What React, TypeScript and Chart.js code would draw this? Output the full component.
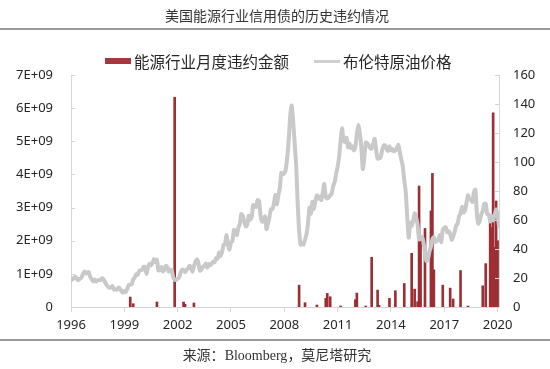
import React, { useEffect, useRef } from "react";
import { Chart, registerables } from "chart.js";

Chart.register(...registerables);

// ---- text ----
const TITLE = "美国能源行业信用债的历史违约情况";
const SOURCE_PREFIX = "来源：";
const SOURCE_LATIN = "Bloomberg";
const SOURCE_SUFFIX = "，莫尼塔研究";
const BAR_LABEL = "能源行业月度违约金额";
const LINE_LABEL = "布伦特原油价格";

// ---- axes ----
const xTickYears = [1996, 1999, 2002, 2005, 2008, 2011, 2014, 2017, 2020];
const leftTicks = [0, 1e9, 2e9, 3e9, 4e9, 5e9, 6e9, 7e9];
const rightTicks = [0, 20, 40, 60, 80, 100, 120, 140, 160];

// ---- monthly energy-sector default amounts (USD) ----
const defaultMonths = [
  "1999-05", "1999-07", "2000-11", "2001-11", "2002-05", "2002-06", "2002-12",
  "2008-11", "2009-03", "2009-11", "2010-05", "2010-06", "2010-08", "2011-03",
  "2012-01", "2012-02", "2012-08", "2012-12", "2013-04", "2013-05", "2013-12",
  "2014-04", "2014-10", "2015-03", "2015-05", "2015-07", "2015-08", "2015-09",
  "2015-12", "2016-04", "2016-05", "2016-06", "2016-12", "2017-05", "2017-07",
  "2017-12", "2018-05", "2019-03", "2019-05", "2019-08", "2019-09", "2019-10",
  "2019-11", "2019-12", "2020-01",
];
const defaultAmounts = [
  0.30e9, 0.10e9, 0.15e9, 6.33e9, 0.15e9, 0.08e9, 0.12e9,
  0.66e9, 0.13e9, 0.06e9, 0.26e9, 0.41e9, 0.31e9, 0.03e9,
  0.22e9, 0.42e9, 0.03e9, 1.5e9, 0.51e9, 0.05e9, 0.26e9,
  0.49e9, 0.71e9, 1.62e9, 0.54e9, 0.16e9, 3.65e9, 2.12e9,
  2.37e9, 2.9e9, 4.03e9, 1.12e9, 0.66e9, 0.57e9, 0.24e9,
  1.1e9, 0.03e9, 0.64e9, 1.31e9, 2.57e9, 2.4e9, 5.86e9,
  1.8e9, 3.2e9, 2.0e9,
];

// ---- Brent crude monthly price (USD/bbl), from 1996-01 ----
const brentStartYear = 1996;
const brentMonthly = [
  // 1996
  18.6, 19.0, 20.2, 20.9, 19.2, 18.6, 19.6, 20.3, 22.6, 24.4, 23.0, 23.9,
  // 1997
  24.0, 20.8, 19.2, 17.6, 19.0, 17.6, 18.5, 18.6, 18.5, 19.9, 19.1, 17.1,
  // 1998
  15.3, 14.0, 13.3, 13.6, 14.4, 12.1, 12.0, 12.0, 13.4, 12.8, 11.0, 9.8,
  // 1999
  11.1, 10.3, 12.5, 15.3, 15.3, 15.8, 19.1, 20.3, 22.5, 22.1, 24.6, 25.5,
  // 2000
  25.5, 27.8, 27.5, 22.8, 27.6, 29.8, 28.7, 30.4, 33.1, 30.9, 32.5, 25.3,
  // 2001
  25.6, 27.5, 24.5, 25.7, 28.4, 27.7, 24.5, 25.7, 25.6, 20.5, 18.9, 18.6,
  // 2002
  19.4, 20.3, 23.7, 25.7, 25.4, 24.1, 25.7, 26.6, 28.4, 27.5, 24.3, 28.0,
  // 2003
  31.2, 32.8, 30.3, 25.0, 25.8, 27.6, 28.4, 29.9, 27.1, 29.6, 28.8, 29.8,
  // 2004
  31.2, 30.9, 33.8, 33.4, 37.6, 35.2, 38.2, 42.7, 43.2, 49.8, 43.1, 39.6,
  // 2005
  44.5, 45.5, 53.1, 51.9, 49.7, 54.6, 57.5, 64.1, 62.9, 58.5, 55.5, 56.7,
  // 2006
  63.0, 60.2, 62.1, 70.3, 70.0, 68.9, 73.7, 73.2, 62.8, 58.9, 59.1, 62.5,
  // 2007
  53.7, 57.6, 62.1, 67.4, 67.5, 71.3, 77.2, 70.8, 77.1, 82.3, 92.5, 91.5,
  // 2008
  92.2, 94.8, 103.3, 115.0, 132.0, 139.0, 128.0, 113.0, 98.0, 72.7, 53.0, 43.0,
  // 2009
  44.0, 43.0, 46.5, 50.2, 57.3, 68.6, 64.4, 72.5, 67.7, 73.2, 77.0, 74.7,
  // 2010
  76.2, 73.8, 78.8, 84.8, 75.9, 74.8, 75.6, 77.1, 78.2, 83.5, 86.1, 92.0,
  // 2011
  96.5, 103.7, 114.6, 123.3, 114.5, 113.9, 116.7, 110.2, 112.8, 109.6, 110.8, 107.9,
  // 2012
  110.7, 119.3, 125.5, 119.8, 110.3, 95.2, 102.6, 113.4, 113.0, 111.5, 109.5, 109.2,
  // 2013
  112.3, 116.1, 108.5, 102.3, 102.6, 102.9, 107.9, 111.3, 111.6, 109.1, 107.8, 110.8,
  // 2014
  108.1, 108.9, 107.5, 107.8, 109.5, 111.8, 106.8, 101.6, 97.1, 87.4, 79.4, 62.3,
  // 2015
  47.8, 58.1, 55.9, 59.5, 64.6, 61.7, 56.8, 46.5, 47.6, 48.4, 44.3, 38.0,
  // 2016
  31.5, 33.0, 38.2, 41.6, 46.7, 48.3, 44.9, 45.8, 46.6, 49.5, 44.7, 53.3,
  // 2017
  54.6, 54.9, 51.6, 52.3, 50.3, 46.4, 48.5, 51.7, 56.2, 57.5, 62.7, 64.4,
  // 2018
  69.1, 65.2, 66.5, 71.8, 77.0, 74.4, 74.3, 72.5, 78.9, 81.0, 64.8, 57.4,
  // 2019
  59.4, 64.0, 66.1, 71.2, 71.3, 64.2, 63.9, 59.0, 62.8, 59.7, 63.2, 67.3,
  // 2020
  63.7, 55.5,
];

const monthToYear = (s: string) => {
  const [y, m] = s.split("-").map(Number);
  return y + (m - 1) / 12;
};

const BAR_COLOR = "#9c2f35";
const LINE_COLOR = "#c9c9c9";
const AXIS_COLOR = "#d6d6d6";
const TEXT_COLOR = "#262626";
const SANS = '"Noto Sans", "Noto Sans CJK SC", sans-serif';
const CJK = '"Noto Sans CJK SC", "Noto Sans", sans-serif';

const innerTicks = {
  id: "innerTicks",
  afterDraw(chart: any) {
    const { ctx, chartArea } = chart;
    ctx.save();
    ctx.strokeStyle = AXIS_COLOR;
    ctx.lineWidth = 1;
    const yl = chart.scales.y;
    const yr = chart.scales.y2;
    yl.ticks.forEach((t: any) => {
      const py = Math.round(yl.getPixelForValue(t.value)) + 0.5;
      ctx.beginPath();
      ctx.moveTo(chartArea.left, py);
      ctx.lineTo(chartArea.left + 4, py);
      ctx.stroke();
    });
    yr.ticks.forEach((t: any) => {
      const py = Math.round(yr.getPixelForValue(t.value)) + 0.5;
      ctx.beginPath();
      ctx.moveTo(chartArea.right - 4, py);
      ctx.lineTo(chartArea.right, py);
      ctx.stroke();
    });
    ctx.restore();
  },
};

export default function App() {
  const canvasRef = useRef<HTMLCanvasElement | null>(null);

  useEffect(() => {
    document.body.style.margin = "0";
    const canvas = canvasRef.current;
    if (!canvas) return;

    const barData = defaultMonths.map((m, i) => ({ x: monthToYear(m), y: defaultAmounts[i] }));
    const lineData = brentMonthly.map((v, i) => ({ x: brentStartYear + i / 12, y: v }));

    const chart = new Chart(canvas, {
      type: "bar",
      data: {
        datasets: [
          {
            type: "line",
            label: LINE_LABEL,
            data: lineData,
            yAxisID: "y2",
            borderColor: LINE_COLOR,
            borderWidth: 4,
            pointRadius: 0,
            tension: 0.2,
            borderJoinStyle: "round",
            borderCapStyle: "round",
            order: 0,
          } as any,
          {
            type: "bar",
            label: BAR_LABEL,
            data: barData,
            yAxisID: "y",
            backgroundColor: BAR_COLOR,
            barThickness: 2,
            order: 1,
          } as any,
        ],
      },
      options: {
        responsive: false,
        animation: false,
        layout: { padding: { top: 75, left: 0, right: 0, bottom: 0 } },
        plugins: {
          legend: { display: false },
          title: { display: false },
          tooltip: { enabled: false },
        },
        scales: {
          x: {
            type: "linear",
            offset: false,
            min: 1996,
            max: 2020.08,
            grid: { display: true, offset: false, drawOnChartArea: false, drawTicks: true, tickLength: 5, color: AXIS_COLOR },
            border: { display: true, color: AXIS_COLOR },
            afterBuildTicks: (axis: any) => {
              axis.ticks = xTickYears.map((v) => ({ value: v }));
            },
            afterFit: (axis: any) => {
              axis.height = 62;
            },
            ticks: {
              autoSkip: false,
              maxRotation: 0,
              padding: 5,
              color: TEXT_COLOR,
              font: { family: SANS, size: 13 },
              callback: (v: any) => String(v),
            },
          },
          y: {
            type: "linear",
            position: "left",
            min: 0,
            max: 7e9,
            grid: { display: false, drawTicks: false },
            border: { display: true, color: AXIS_COLOR },
            afterBuildTicks: (axis: any) => {
              axis.ticks = leftTicks.map((v) => ({ value: v }));
            },
            afterFit: (axis: any) => {
              axis.width = 71;
            },
            ticks: {
              padding: 18,
              color: TEXT_COLOR,
              font: { family: SANS, size: 13 },
              callback: (v: any) => (v === 0 ? "0" : `${Math.round(v / 1e9)}E+09`),
            },
          },
          y2: {
            type: "linear",
            position: "right",
            min: 0,
            max: 160,
            grid: { display: false, drawTicks: false },
            border: { display: true, color: AXIS_COLOR },
            afterBuildTicks: (axis: any) => {
              axis.ticks = rightTicks.map((v) => ({ value: v }));
            },
            afterFit: (axis: any) => {
              axis.width = 51;
            },
            ticks: {
              padding: 14,
              color: TEXT_COLOR,
              font: { family: SANS, size: 13 },
              callback: (v: any) => String(v),
            },
          },
        },
      },
      plugins: [innerTicks],
    });

    return () => chart.destroy();
  }, []);

  const abs = (s: React.CSSProperties): React.CSSProperties => ({ position: "absolute", ...s });

  return (
    <div style={{ position: "absolute", left: 0, top: 0, width: 550, height: 369, background: "#fff", overflow: "hidden" }}>
      <canvas ref={canvasRef} width={550} height={369} style={abs({ left: 0, top: 0 })} />
      <div
        style={abs({
          left: 2, top: 8, width: 550, textAlign: "center",
          font: `14px ${CJK}`, lineHeight: "14px", color: "#333", whiteSpace: "nowrap",
        })}
      >
        {TITLE}
      </div>
      <div style={abs({ left: 0, top: 28, width: 550, height: 2, background: "#9a9a9a" })} />
      <div style={abs({ left: 105, top: 58, width: 26, height: 6, background: "#a3393e" })} />
      <div
        style={abs({
          left: 134, top: 53, font: `15.5px ${CJK}`, lineHeight: "16px", color: TEXT_COLOR, whiteSpace: "nowrap",
        })}
      >
        {BAR_LABEL}
      </div>
      <div style={abs({ left: 314, top: 60, width: 26, height: 3, background: "#cfcfcf" })} />
      <div
        style={abs({
          left: 343, top: 53, font: `15.5px ${CJK}`, lineHeight: "16px", color: TEXT_COLOR, whiteSpace: "nowrap",
        })}
      >
        {LINE_LABEL}
      </div>
      <div style={abs({ left: 0, top: 339, width: 550, height: 2, background: "#9a9a9a" })} />
      <div
        style={abs({
          left: 2, top: 347, width: 550, textAlign: "center",
          font: `14px ${CJK}`, lineHeight: "14px", color: "#333", whiteSpace: "nowrap",
        })}
      >
        {SOURCE_PREFIX}
        <span style={{ fontFamily: '"Liberation Serif", "DejaVu Serif", serif' }}>{SOURCE_LATIN}</span>
        {SOURCE_SUFFIX}
      </div>
    </div>
  );
}
